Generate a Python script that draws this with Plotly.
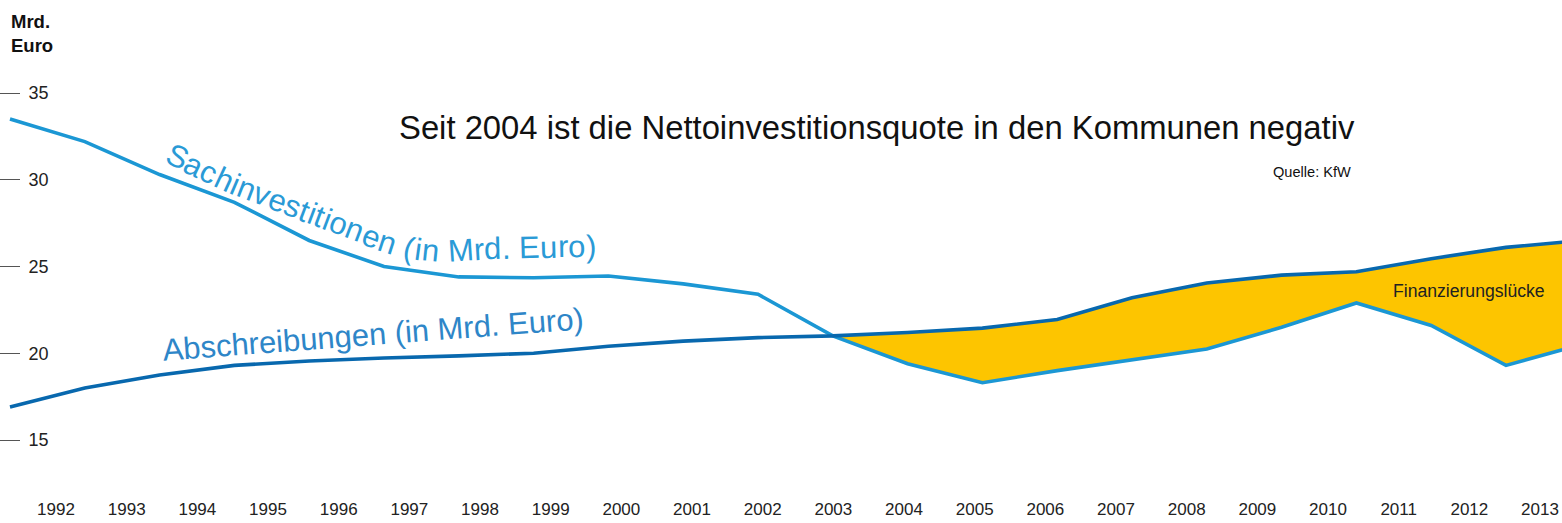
import math
import plotly.graph_objects as go

# ---------------- data ----------------
years = list(range(1992, 2014))
sachinvestitionen = [33.5, 32.2, 30.3, 28.7, 26.5, 25.0, 24.4, 24.35, 24.45, 24.0, 23.4,
                     21.0, 19.4, 18.3, 19.0, 19.6, 20.25, 21.5, 22.9, 21.6, 19.3, 20.5]
abschreibungen = [16.9, 18.0, 18.75, 19.3, 19.55, 19.73, 19.85, 20.0, 20.4, 20.7, 20.9,
                  21.0, 21.2, 21.45, 21.95, 23.2, 24.05, 24.5, 24.7, 25.45, 26.1, 26.5]
tick_labels = [str(y) for y in years]
y_ticks = [15, 20, 25, 30, 35]
gap_start_year = 2003

# ---------------- style ----------------
W, H = 1562, 523
MB = 26
PH = H - MB
FONT = "Liberation Sans, Arial, sans-serif"
C_SACH = "#1B97D4"
C_ABS = "#0868AE"
C_FILL = "#FDC500"

def px2paper(px, py):
    return px / W, 1 - py / PH

fig = go.Figure()

i0 = years.index(gap_start_year)
fig.add_trace(go.Scatter(x=years[i0:], y=abschreibungen[i0:], mode="lines",
                         line=dict(width=0, color=C_FILL), hoverinfo="skip", showlegend=False))
fig.add_trace(go.Scatter(x=years[i0:], y=sachinvestitionen[i0:], mode="lines", fill="tonexty",
                         fillcolor=C_FILL, line=dict(width=0, color=C_FILL),
                         hoverinfo="skip", showlegend=False))
fig.add_trace(go.Scatter(x=years, y=sachinvestitionen, mode="lines",
                         line=dict(color=C_SACH, width=3.6), name="Sachinvestitionen", showlegend=False))
fig.add_trace(go.Scatter(x=years, y=abschreibungen, mode="lines",
                         line=dict(color=C_ABS, width=3.6), name="Abschreibungen", showlegend=False))
# invisible trace carrying the tick-label axis
fig.add_trace(go.Scatter(x=years, y=[None] * len(years), xaxis="x2", mode="markers",
                         marker=dict(opacity=0), hoverinfo="skip", showlegend=False))

# ---------------- curved label for Sachinvestitionen ----------------
arial_w = {"S": 667, "a": 556, "c": 500, "h": 556, "i": 222, "n": 556, "v": 500, "e": 556,
           "s": 500, "t": 278, "o": 556, " ": 278, "(": 333, ")": 333, "M": 833, "r": 333,
           "d": 556, ".": 278, "E": 667, "u": 556}
LBL_SIZE = 31
path = [(177, 157), (237, 185), (302, 210), (387, 242), (412, 249), (440, 252),
        (483, 249), (557, 247), (620, 246)]

seglen = [math.dist(path[k], path[k + 1]) for k in range(len(path) - 1)]

def point_at(s):
    if s < 0:
        (x0, y0), (x1, y1) = path[0], path[1]
        L = seglen[0]
        return x0 + (x1 - x0) * s / L, y0 + (y1 - y0) * s / L
    for k, L in enumerate(seglen):
        if s <= L or k == len(seglen) - 1:
            (x0, y0), (x1, y1) = path[k], path[k + 1]
            return x0 + (x1 - x0) * s / L, y0 + (y1 - y0) * s / L
        s -= L

label = "Sachinvestitionen (in Mrd. Euro)"
s = 0.0
prev_w = None
for ch in label:
    w = arial_w[ch] / 1000 * LBL_SIZE
    if prev_w is not None:
        s += (prev_w + w) / 2 + 0.2
    prev_w = w
    if ch == " ":
        continue
    x, y = point_at(s)
    xa, ya = point_at(s - 10)
    xb, yb = point_at(s + 10)
    ang = math.degrees(math.atan2(yb - ya, xb - xa))
    xp, yp = px2paper(x, y)
    fig.add_annotation(x=xp, y=yp, xref="paper", yref="paper", text=ch, showarrow=False,
                       textangle=ang, xanchor="center", yanchor="middle",
                       font=dict(family=FONT, size=LBL_SIZE, color="#2A9AD6"))

# ---------------- other texts ----------------
def ann(px, py, text, size, color="#111", xanchor="center", yanchor="middle", angle=0, bold=False):
    xp, yp = px2paper(px, py)
    fig.add_annotation(x=xp, y=yp, xref="paper", yref="paper", text=text, showarrow=False,
                       xanchor=xanchor, yanchor=yanchor, textangle=angle, align="left",
                       font=dict(family=FONT, size=size, color=color,
                                 weight="bold" if bold else "normal"))

ann(373, 334, "Abschreibungen (in Mrd. Euro)", LBL_SIZE, color="#2E86C8", angle=-4.3)
ann(877, 127, "Seit 2004 ist die Nettoinvestitionsquote in den Kommunen negativ", 32.8)
ann(1353, 172, "Quelle: KfW", 14.6, xanchor="right")
ann(1469, 291, "Finanzierungslücke", 17.6, color="#222")
ann(9, 9, "Mrd.<br>Euro", 18.5, xanchor="left", yanchor="top", bold=True)

# ---------------- axes ----------------
px_per_year = 74.8
x_start = 1992 - 10 / px_per_year
x_end = 1992 + (W - 10) / px_per_year
y_per_px = 1 / 17.35
y_top = 35 + 93 * y_per_px
y_bot = 35 - (PH - 93) * y_per_px

lbl_first, lbl_last = 56, 1540
lbl_px = (lbl_last - lbl_first) / (years[-1] - years[0])
fig.update_layout(
    width=W, height=H,
    margin=dict(l=0, r=0, t=0, b=MB, pad=0),
    paper_bgcolor="white", plot_bgcolor="white",
    font=dict(family=FONT, size=17, color="#222"),
    xaxis=dict(range=[x_start, x_end], showticklabels=False, showgrid=False,
               zeroline=False, showline=False, ticks=""),
    xaxis2=dict(overlaying="x", side="bottom", anchor="y",
                range=[1992 - lbl_first / lbl_px, 1992 + (W - lbl_first) / lbl_px],
                tickmode="array", tickvals=years, ticktext=tick_labels,
                showgrid=False, zeroline=False, showline=False, ticks="",
                tickfont=dict(family=FONT, size=17, color="#222")),
    yaxis=dict(range=[y_bot, y_top], tickmode="array", tickvals=y_ticks,
               ticks="inside", ticklen=20, tickwidth=1, tickcolor="#555",
               ticklabelposition="inside", ticklabelstandoff=9, showgrid=False,
               zeroline=False, showline=False,
               tickfont=dict(family=FONT, size=18, color="#222")),
    hovermode=False,
)

fig.write_html("out.html", config={"displayModeBar": False},
               post_script="document.body.style.margin='0px';")
